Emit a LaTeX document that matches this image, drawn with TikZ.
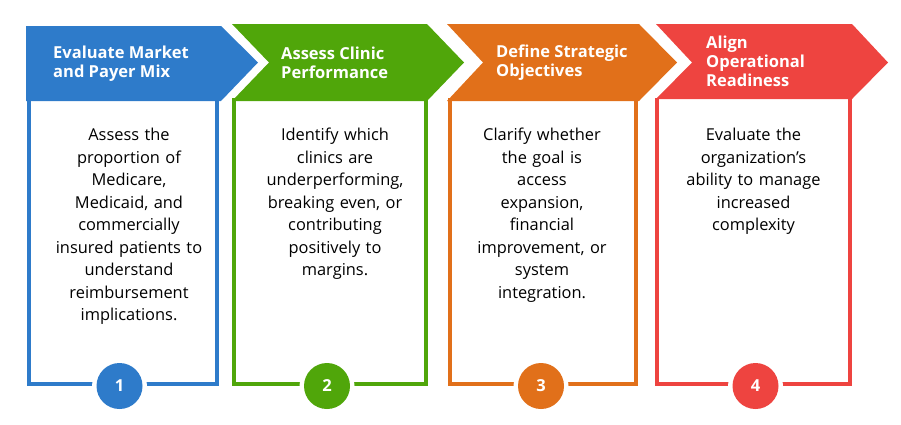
\documentclass[tikz,border=0pt]{standalone}
\usepackage{fontspec}
\setmainfont{Open Sans}
\definecolor{cblue}{RGB}{46,123,202}
\definecolor{cgreen}{RGB}{80,166,10}
\definecolor{corange}{RGB}{225,112,26}
\definecolor{cred}{RGB}{238,68,64}
\tikzset{
  chev/.style={fill=#1, draw=none},
  stepframe/.style={draw=#1, line width=4pt, line join=miter},
  ttl/.style={anchor=west, align=left, inner sep=0pt, text=white,
    font=\fontsize{16.5}{19.2}\selectfont\bfseries},
  body/.style={anchor=north, align=center, inner sep=0pt, text width=190pt,
    font=\fontsize{16.4}{22.5}\selectfont, text=black},
  numring/.style={circle, fill=white, minimum size=55pt, inner sep=0pt},
  numdot/.style={circle, fill=#1, minimum size=46pt, inner sep=0pt, text=white,
    font=\fontsize{16.5}{16.5}\selectfont\bfseries},
}
\begin{document}
\begin{tikzpicture}[x=1pt,y=-1pt]
\useasboundingbox (0,0) rectangle (901,424);
% frames
\draw[stepframe=cblue] (29,98) -- (29,384) -- (217,384) -- (217,98);
\draw[stepframe=cgreen] (234,98) -- (234,384) -- (426,384) -- (426,98);
\draw[stepframe=corange] (449.5,98) -- (449.5,384) -- (636,384) -- (636,98);
\draw[stepframe=cred] (657,98) -- (657,384) -- (850,384) -- (850,98);
% chevrons
\fill[chev=cblue] (26,26) -- (221,26) -- (258,62.5) -- (221,101) -- (26,101) -- cycle;
\fill[chev=cgreen] (232,24) -- (427,24) -- (464,62.5) -- (427,101) -- (232,101) -- (269,62.5) -- cycle;
\fill[chev=corange] (447,24) -- (639,24) -- (677,62.5) -- (639,101) -- (447,101) -- (483,62.5) -- cycle;
\fill[chev=cred] (656,24) -- (852,24) -- (888,62.5) -- (852,99) -- (656,99) -- (692,62.5) -- cycle;
% titles
\node[ttl] (t1) at (53,63.5) {Evaluate Market\\and Payer Mix};
\node[ttl] (t2) at (281,62.5) {Assess Clinic\\Performance};
\node[ttl] (t3) at (496,62.5) {Define Strategic\\Objectives};
\node[ttl] (t4) at (706,61.5) {Align\\Operational\\Readiness};
% body texts
\node[body] (b1) at (129,128) {Assess the\\proportion of\\Medicare,\\Medicaid, and\\commercially\\insured patients to\\understand\\reimbursement\\implications.};
\node[body] (b2) at (335,128) {Identify which\\clinics are\\underperforming,\\breaking even, or\\contributing\\positively to\\margins.};
\node[body] (b3) at (542,128) {Clarify whether\\the goal is\\access\\expansion,\\financial\\improvement, or\\system\\integration.};
\node[body] (b4) at (753.5,128) {Evaluate the\\organization’s\\ability to manage\\increased\\complexity};
% number badges
\node[numring] (r1) at (119.5,386) {};
\node[numdot=cblue] (n1) at (119.5,386) {1};
\node[numring] (r2) at (327,386) {};
\node[numdot=cgreen] (n2) at (327,386) {2};
\node[numring] (r3) at (541,386) {};
\node[numdot=corange] (n3) at (541,386) {3};
\node[numring] (r4) at (755.5,386) {};
\node[numdot=cred] (n4) at (755.5,386) {4};
\end{tikzpicture}
\end{document}
